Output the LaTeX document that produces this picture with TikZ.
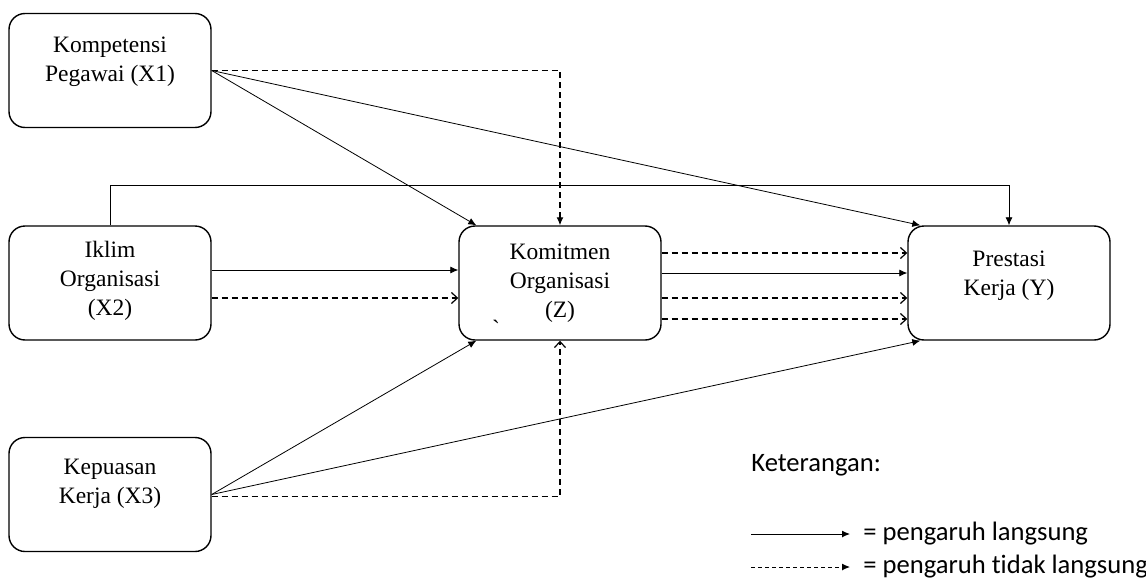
\documentclass[tikz,border=0pt]{standalone}
\usepackage{fontspec}
\setmainfont{Liberation Serif}
\newfontfamily\legendfont[Ligatures=NoCommon]{Carlito}
\usetikzlibrary{arrows.meta,positioning}

\tikzset{
  kotak/.style={draw, line width=0.7pt, rounded corners=8pt,
    minimum width=101pt, minimum height=57pt},
  teks/.style={align=center, inner sep=0pt,
    font=\fontsize{11.75}{14.5}\selectfont},
  langsung/.style={line width=0.4pt, -{Latex[length=4pt,width=3.5pt]}},
  tidaklangsung/.style={line width=0.6pt, dash pattern=on 3pt off 2pt,
    -{Straight Barb[length=3pt,width=5.5pt]}},
  ket/.style={anchor=west, inner sep=0pt,
    font=\legendfont\fontsize{13.3}{15}\selectfont},
}

\begin{document}
\begin{tikzpicture}[x=0.5pt, y=-0.5pt]
    \useasboundingbox (0,0) rectangle (1146,578);

    % Kotak variabel
    \node[kotak] (x1) at (110,70.5) {};
    \node[kotak] (x2) at (110,283) {};
    \node[kotak] (x3) at (110,494.5) {};
    \node[kotak] (z) at (560,283) {};
    \node[kotak] (y) at (1009,283) {};

    % Teks di dalam kotak
    \node[teks] (x1t) at (110,62) {Kompetensi\\Pegawai (X1)};
    \node[teks] (x2t) at (110,281) {Iklim\\Organisasi\\(X2)};
    \node[teks] (x3t) at (110,484) {Kepuasan\\Kerja (X3)};
    \node[teks] (zt) at (560,283) {Komitmen\\Organisasi\\(Z)};
    \node[teks] (yt) at (1009,276) {Prestasi\\Kerja (Y)};
    \node[teks] (ztik) at (496,328) {\textasciigrave};

    % Titik bantu untuk garis X2 ke Y
    \coordinate (x2up) at (110,185);

    % Pengaruh dari X1
    \draw[tidaklangsung, -{Latex[length=4pt,width=3.5pt]}] (x1.east) -| (z.north);
    \draw[langsung] (x1.east) -- ([xshift=9pt]z.north west);
    \draw[langsung] (x1.east) -- ([xshift=6.5pt]y.north west);

    % Pengaruh dari X2
    \draw[langsung] (x2.north) -- (x2up) -| (y.north);
    \draw[langsung] ([yshift=6.5pt]x2.east) -- ([yshift=6.5pt]z.west);
    \draw[tidaklangsung] ([yshift=-7.5pt]x2.east) -- ([yshift=-7.5pt]z.west);

    % Pengaruh dari Z ke Y
    \draw[tidaklangsung] ([yshift=15pt]z.east) -- ([yshift=15pt]y.west);
    \draw[langsung] ([yshift=5pt]z.east) -- ([yshift=5pt]y.west);
    \draw[tidaklangsung] ([yshift=-7.5pt]z.east) -- ([yshift=-7.5pt]y.west);
    \draw[tidaklangsung] ([yshift=-18pt]z.east) -- ([yshift=-18pt]y.west);

    % Pengaruh dari X3
    \draw[langsung] (x3.east) -- ([xshift=9pt]z.south west);
    \draw[langsung] (x3.east) -- ([xshift=6.5pt]y.south west);
    \draw[tidaklangsung] ([yshift=-1pt]x3.east) -| (z.south);

    % Keterangan
    \node[ket] (judul) at (751,465) {Keterangan:};
    \coordinate (l1a) at (751,534);
    \coordinate (l1b) at (850,534);
    \coordinate (l2a) at (751,567);
    \coordinate (l2b) at (850,567);
    \draw[line width=0.5pt, -{Latex[length=4pt,width=3.5pt]}] (l1a) -- (l1b);
    \draw[line width=0.5pt, dash pattern=on 2pt off 1.5pt,
      -{Latex[length=4pt,width=3.5pt]}] (l2a) -- (l2b);
    \node[ket] (k1) at (863,534) {= pengaruh langsung};
    \node[ket] (k2) at (863,567) {= pengaruh tidak langsung};

  \end{tikzpicture}
\end{document}
